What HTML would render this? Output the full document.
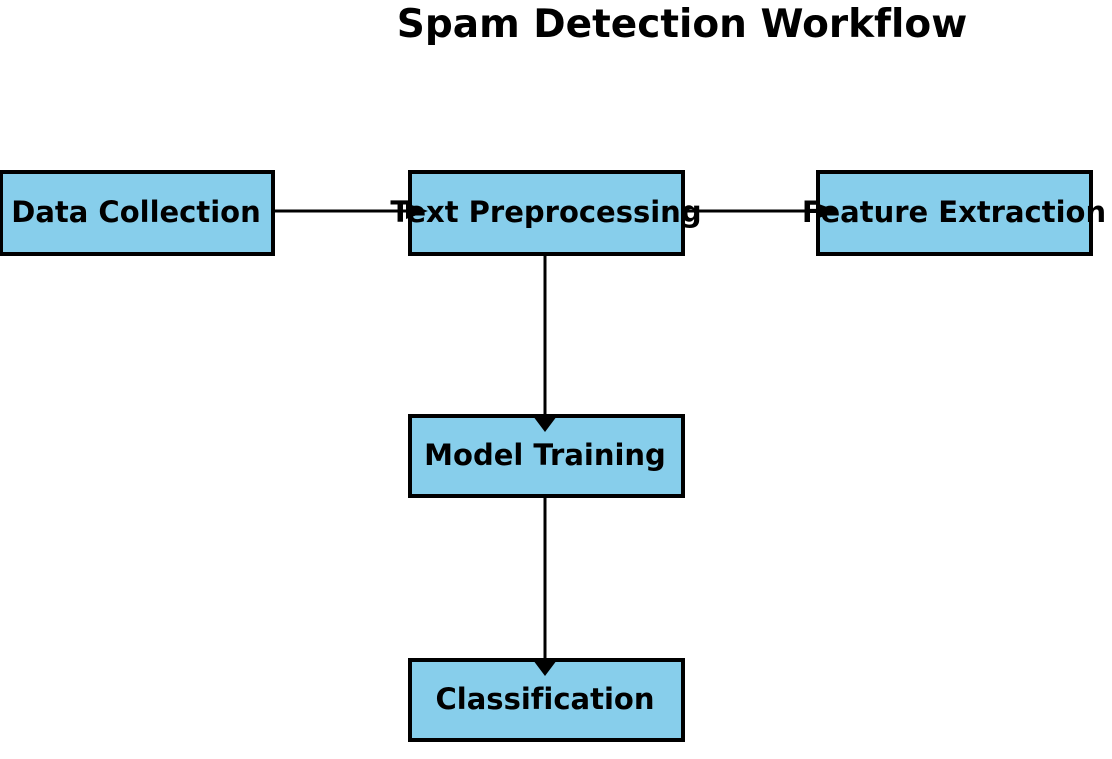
<!DOCTYPE html>
<html><head><style>
html,body{margin:0;padding:0;background:#fff;}
svg{display:block;}
text{font-family:"DejaVu Sans","Liberation Sans",sans-serif;font-weight:bold;fill:#000;font-variant-ligatures:none;font-feature-settings:"liga" 0;}
</style></head><body>
<svg width="1112" height="759" viewBox="0 0 1112 759">
<text x="682" y="37" font-size="39" text-anchor="middle">Spam Detection Workflow</text>
<g fill="#87ceeb" stroke="#000" stroke-width="4">
<rect x="1" y="172" width="272" height="82"/>
<rect x="410" y="172" width="273" height="82"/>
<rect x="818" y="172" width="273" height="82"/>
<rect x="410" y="416" width="273" height="80"/>
<rect x="410" y="660" width="273" height="80"/>
</g>
<g stroke="#000" stroke-width="3">
<line x1="273" y1="211" x2="412" y2="211"/>
<line x1="683" y1="211" x2="822" y2="211"/>
<line x1="545" y1="254" x2="545" y2="418"/>
<line x1="545" y1="496" x2="545" y2="662"/>
</g>
<g fill="#000">
<polygon points="406,203 428,211 406,219"/>
<polygon points="816,203 838,211 816,219"/>
<polygon points="533,416 557,416 545,432"/>
<polygon points="533,660 557,660 545,676"/>
</g>
<g font-size="29" text-anchor="middle">
<text x="136" y="222">Data Collection</text>
<text x="546" y="222">Text Preprocessing</text>
<text x="954" y="222">Feature Extraction</text>
<text x="545" y="465">Model Training</text>
<text x="545" y="709">Classification</text>
</g>
</svg>
</body></html>
